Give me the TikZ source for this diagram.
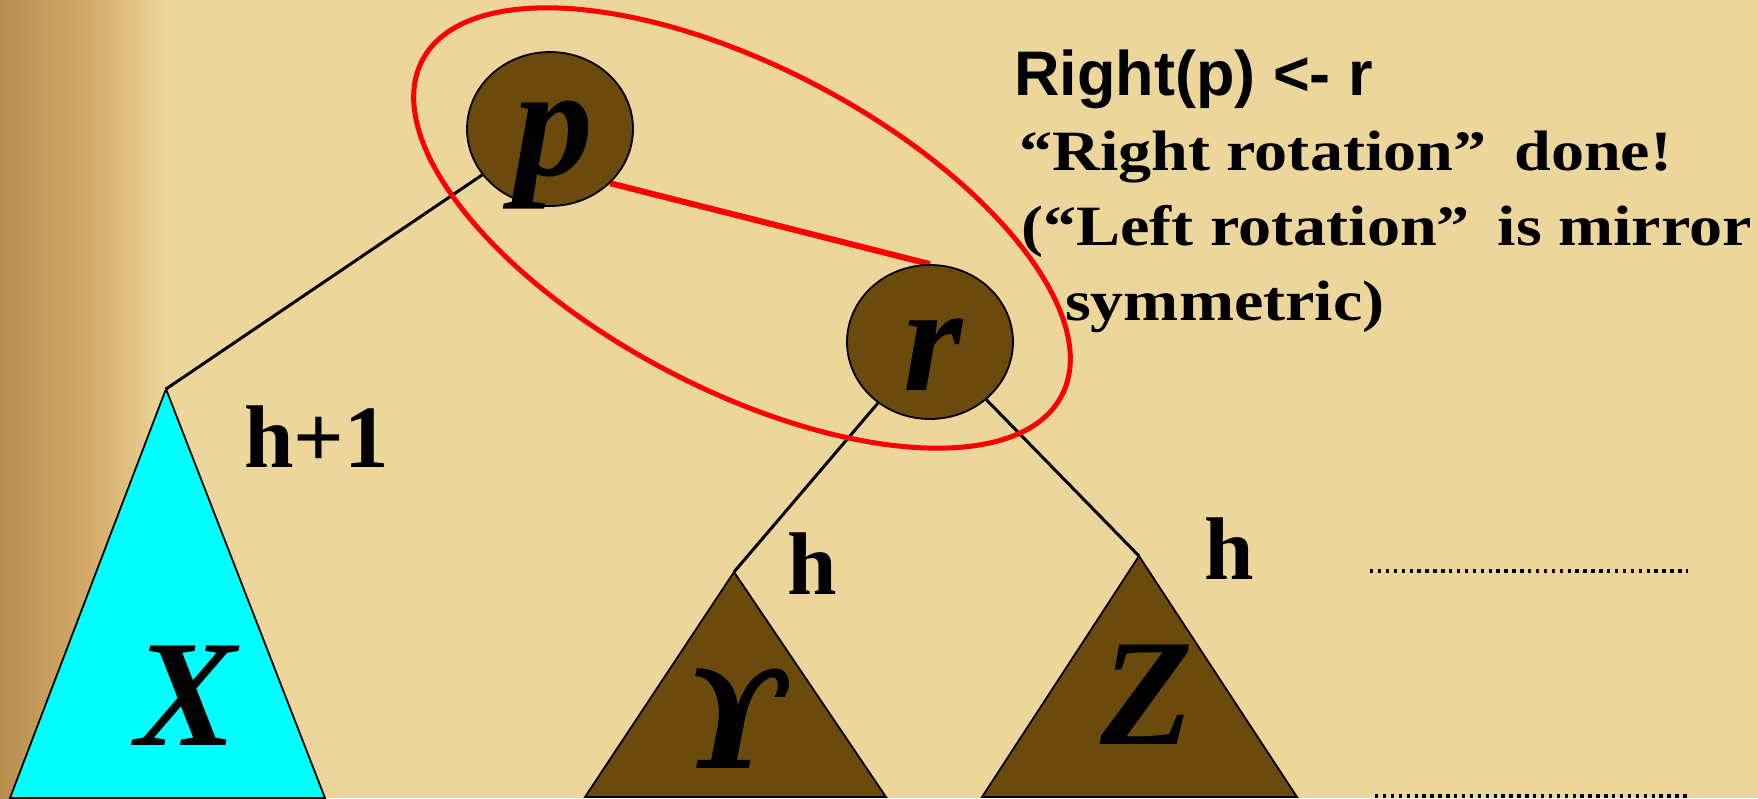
\documentclass[tikz,border=0pt]{standalone}
\usepackage[no-math]{fontspec}
\usepackage{graphicx}
\usetikzlibrary{shapes.geometric}
\newfontfamily\arialf{Liberation Sans}
\newfontfamily\palf[FakeStretch=1.16]{Liberation Serif}
\newfontfamily\tmsf{Liberation Serif}
\newfontfamily\dvsf{DejaVu Serif}
\definecolor{brn}{RGB}{107,74,14}
\definecolor{bgc}{RGB}{236,214,155}
\definecolor{cyn}{RGB}{0,255,255}
\definecolor{edgeA}{RGB}{184,143,80}
\definecolor{edgeB}{RGB}{210,170,105}
\pgfdeclarelayer{bg}
\pgfdeclarelayer{lines}
\pgfsetlayers{bg,lines,main}
\begin{document}
\begin{tikzpicture}[x=1pt,y=-1pt,
  treenode/.style={ellipse, draw=black, line width=1.8pt, fill=brn, minimum width=166pt, minimum height=154pt, inner sep=0pt},
  treeedge/.style={line width=3pt, black},
  redline/.style={line width=6pt, red},
  subtree/.style={draw=black, line width=1.8pt, line join=miter},
  bigletter/.style={inner sep=0pt, anchor=base, font=\tmsf\bfseries\itshape\fontsize{152}{152}\selectfont},
  hlabel/.style={inner sep=0pt, anchor=base west, font=\tmsf\bfseries\fontsize{89}{89}\selectfont},
  txt/.style={inner sep=0pt, anchor=base west, font=\palf\bfseries\fontsize{57}{57}\selectfont},
  dotline/.style={line width=3.4pt, dash pattern=on 3.4pt off 4.5pt}
]
\useasboundingbox (0,0) rectangle (1758,798);
\begin{pgfonlayer}{bg}
\fill[bgc] (0,0) rectangle (1758,798);
\shade[left color=edgeA, right color=edgeB] (0,0) rectangle (90,798);
\shade[left color=edgeB, right color=bgc] (90,0) rectangle (165,798);
\end{pgfonlayer}

% tree nodes
\node[treenode] (p) at (550,129) {};
\node[treenode] (r) at (930,342) {};
\node[bigletter, font=\tmsf\bfseries\itshape\fontsize{158}{158}\selectfont] (pl) at (554,175) {p};
\node[bigletter] (rl) at (933,390) {r};

% subtree apexes
\coordinate (xa) at (166,389);
\coordinate (ya) at (734,572);
\coordinate (za) at (1139,556);

\begin{pgfonlayer}{lines}
\draw[treeedge] (p) -- (xa);
\draw[treeedge] (r) -- (ya);
\draw[treeedge] (r) -- (za);
\draw[redline] (p.-42) -- (r.north);
\end{pgfonlayer}

% red ellipse
\draw[red, line width=5pt, rotate around={-27.7:(742,228)}] (742,228) ellipse [x radius=361pt, y radius=161pt];

% subtrees
\draw[subtree, fill=cyn] (xa) -- (10,798) -- (325,798) -- cycle;
\draw[subtree, fill=brn] (ya) -- (585,797) -- (886,797) -- cycle;
\draw[subtree, fill=brn] (za) -- (982,797) -- (1297,797) -- cycle;
\node[bigletter] (xl) at (186,745) {X};
\node[inner sep=0pt, anchor=base, font=\dvsf\bfseries\itshape\fontsize{137}{137}\selectfont] (yl) at (736,768) {ϒ};
\node[bigletter] (zl) at (1147,744) {Z};

% height labels
\node[hlabel] (h1) at (244,467) {h+1};
\node[hlabel] (h2) at (787,594) {h};
\node[hlabel] (h3) at (1204,579) {h};

% dotted lines
\draw[dotline] (1370,571) -- (1688,571);
\draw[dotline] (1375,796) -- (1690,796);

% text
\node[inner sep=0pt, anchor=base west, font=\arialf\bfseries\fontsize{63}{63}\selectfont] (t1) at (1014,95) {Right(p) <- r};
\node[txt] (t2) at (1019,170) {“Right rotation”\hspace{0.2em} done!};
\node[txt] (t3) at (1021,245) {(“Left rotation”\hspace{0.2em} is mirror};
\node[txt] (t4) at (1065,320) {symmetric)};
\end{tikzpicture}
\end{document}
